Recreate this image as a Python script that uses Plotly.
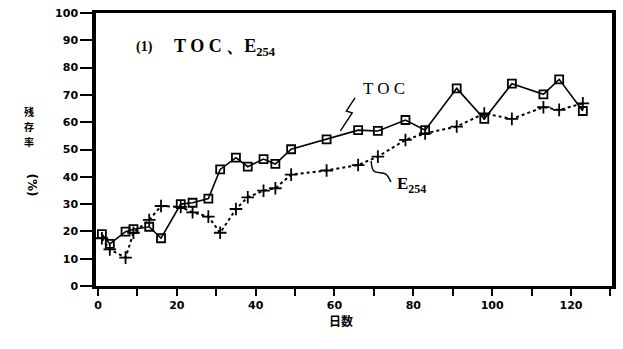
import plotly.graph_objects as go

# Elapsed days and residual ratios (%)
days = [1, 3, 7, 9, 13, 16, 21, 24, 28, 31, 35, 38, 42, 45, 49, 58, 66, 71, 78, 83, 91, 98, 105, 113, 117, 123]
toc = [19.0, 15.4, 19.9, 20.8, 21.7, 17.5, 30.0, 30.5, 32.0, 42.7, 47.0, 43.7, 46.5, 44.7, 50.1,
       53.7, 57.1, 56.8, 60.8, 57.1, 72.4, 61.2, 74.1, 70.2, 75.7, 64.1]
e254 = [17.5, 13.4, 10.4, 19.5, 24.2, 29.3, 29.0, 27.0, 25.4, 19.5, 28.2, 32.5, 34.9, 35.8, 40.8,
        42.3, 44.3, 47.4, 53.5, 55.9, 58.4, 63.2, 61.2, 65.5, 64.5, 66.9]

x_ticks = list(range(0, 121, 20))
y_ticks = list(range(0, 101, 10))

# leader lines for the series labels (data coordinates)
toc_leader_x = [65.2, 63.0, 64.5, 61.5]
toc_leader_y = [68.9, 64.1, 63.4, 56.8]
e_leader_x = [69.3, 70.0, 73.0, 74.3]
e_leader_y = [45.8, 42.1, 41.0, 38.1]

fig = go.Figure()
fig.add_trace(go.Scatter(
    x=days, y=e254, mode="lines+markers", name="E254",
    line=dict(color="black", width=2, dash="dot"),
    marker=dict(symbol="cross-thin", size=9, line=dict(color="black", width=1.8)),
))
fig.add_trace(go.Scatter(
    x=days, y=toc, mode="lines+markers", name="TOC",
    line=dict(color="black", width=1.6),
    marker=dict(symbol="square-open", size=8, color="black", line=dict(width=1.8)),
))
fig.add_trace(go.Scatter(x=toc_leader_x, y=toc_leader_y, mode="lines",
                         line=dict(color="black", width=1.4), hoverinfo="skip"))
fig.add_trace(go.Scatter(x=e_leader_x, y=e_leader_y, mode="lines",
                         line=dict(color="black", width=1.4, shape="spline"), hoverinfo="skip"))

serif = "Liberation Serif"
tick_font = dict(family="DejaVu Sans", size=11, color="black", weight="bold")
cjk = dict(family="Noto Sans CJK JP", size=10, color="black", weight="bold")

# vertical y-axis title, one character per annotation
ylab_x = (22 - 96) / 520
ylabel_notes = [
    dict(x=ylab_x, y=(286 - py) / 274, xref="paper", yref="paper", text=ch,
         showarrow=False, font=cjk, borderpad=0)
    for ch, py in zip(["残", "存", "率"], [111, 126, 141])
]

fig.update_layout(
    width=623, height=349,
    margin=dict(l=96, r=7, t=12, b=63),
    paper_bgcolor="white", plot_bgcolor="white",
    showlegend=False,
    xaxis=dict(
        range=[-0.5, 130.4], tickmode="array", tickvals=x_ticks,
        ticks="outside", ticklen=7, tickwidth=1.5, tickcolor="black",
        minor=dict(tickmode="linear", tick0=0, dtick=10, ticks="outside",
                   ticklen=7, tickwidth=1.5, tickcolor="black", showgrid=False),
        showline=True, linecolor="black", linewidth=2.5, mirror=True,
        showgrid=False, zeroline=False, tickfont=tick_font,
    ),
    yaxis=dict(
        range=[0, 100], tickmode="array", tickvals=y_ticks,
        ticks="outside", ticklen=12, tickwidth=1.5, tickcolor="black",
        showline=True, linecolor="black", linewidth=3.5, mirror=True,
        showgrid=False, zeroline=False, tickfont=tick_font,
    ),
    annotations=ylabel_notes + [
        dict(x=11.8, y=87.5, xref="x", yref="y", text="(1)", showarrow=False,
             font=dict(family=serif, size=14, color="black", weight="bold")),
        dict(x=18.9, y=87.5, xref="x", yref="y", xanchor="left",
             text="T O C 、E<sub>254</sub>", showarrow=False,
             font=dict(family=serif, size=18, color="black", weight="bold")),
        dict(x=66.8, y=72.5, xref="x", yref="y", xanchor="left", text="T O C",
             showarrow=False, font=dict(family=serif, size=17, color="black")),
        dict(x=75.3, y=37.0, xref="x", yref="y", xanchor="left", text="E<sub>254</sub>",
             showarrow=False, font=dict(family=serif, size=17, color="black", weight="bold")),
        dict(x=ylab_x, y=0.32, xref="paper", yref="paper", text="(%)",
             textangle=90, showarrow=False,
             font=dict(family="DejaVu Sans", size=12, color="black", weight="bold")),
        dict(x=(343 - 96) / 520, y=-45 / 274, xref="paper", yref="paper", text="日数",
             showarrow=False, font=dict(family="Noto Sans CJK JP", size=12, color="black", weight="bold")),
    ],
)

fig.write_html("out.html")
